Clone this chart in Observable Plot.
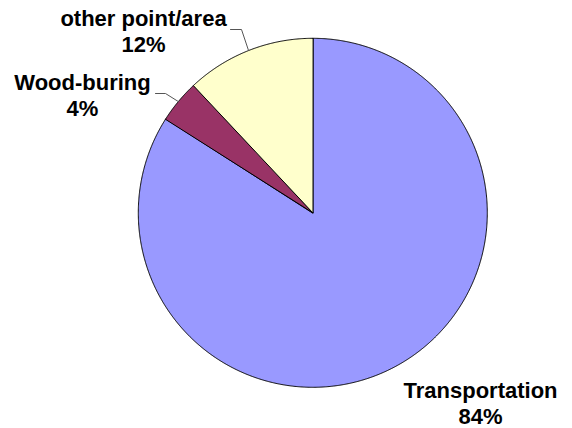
<!DOCTYPE html>
<html><head><meta charset="utf-8">
<script src="https://cdn.jsdelivr.net/npm/d3@7"></script>
<script src="https://cdn.jsdelivr.net/npm/@observablehq/plot@0.6"></script>
<style>body{margin:0;background:#fff}</style>
</head><body><div id="chart"></div>
<script>
// ---- data ----
const categories = ["Transportation", "Wood-buring", "other point/area"];
const shares = [84, 4, 12];
const percentLabels = ["84%", "4%", "12%"];
const sliceColors = ["#9999FF", "#993366", "#FFFFCC"];

// ---- layout (pixel space) ----
const W = 572, H = 428;
const cx = 312.3, cy = 212.3, R = 174.5;
const labelAnchor = [[480, 397], [82, 89], [143, 25]];       // text centre x, baseline of first line
const labelGap = 26;
const leaderBends = [null, [[165, 93], [155, 93]], [[241, 29], [230, 29]]];

const arcs = d3.pie().sort(null).value(d => d.value)(
  categories.map((name, i) => ({name, value: shares[i]}))
);
const pt = (a, r) => [cx + r * Math.sin(a), cy - r * Math.cos(a)];

const slicePts = [];
arcs.forEach(a => {
  slicePts.push({name: a.data.name, x: cx, y: cy});
  const n = Math.max(2, Math.ceil((a.endAngle - a.startAngle) / 0.005));
  for (let k = 0; k <= n; k++) {
    const ang = a.startAngle + (a.endAngle - a.startAngle) * k / n;
    const [x, y] = pt(ang, R);
    slicePts.push({name: a.data.name, x, y});
  }
});

const leaderPts = [];
arcs.forEach((a, i) => {
  if (!leaderBends[i]) return;
  const mid = (a.startAngle + a.endAngle) / 2;
  const [x0, y0] = pt(mid, R);
  leaderPts.push({name: a.data.name, x: x0, y: y0});
  leaderBends[i].forEach(([x, y]) => leaderPts.push({name: a.data.name, x, y}));
});

const labels = [];
categories.forEach((name, i) => {
  labels.push({x: labelAnchor[i][0], y: labelAnchor[i][1], text: name});
  labels.push({x: labelAnchor[i][0], y: labelAnchor[i][1] + labelGap, text: percentLabels[i]});
});

const chart = Plot.plot({
  width: W, height: H, margin: 0,
  x: {domain: [0, W], range: [0, W], axis: null},
  y: {domain: [0, H], range: [0, H], axis: null},
  color: {domain: categories, range: sliceColors},
  style: {background: "#fff", overflow: "visible"},
  marks: [
    Plot.line(slicePts, {x: "x", y: "y", z: "name", fill: "name", stroke: "#000", strokeWidth: 1, curve: "linear-closed", strokeLinejoin: "round"}),
    Plot.line(leaderPts, {x: "x", y: "y", z: "name", stroke: "#555", strokeWidth: 1}),
    Plot.text(labels, {x: "x", y: "y", text: "text", lineAnchor: "bottom", textAnchor: "middle",
      fontFamily: "Liberation Sans, Arial, sans-serif", fontWeight: "bold", fontSize: 22, fill: "#000"})
  ]
});
document.getElementById("chart").appendChild(chart);
</script>
</body></html>
